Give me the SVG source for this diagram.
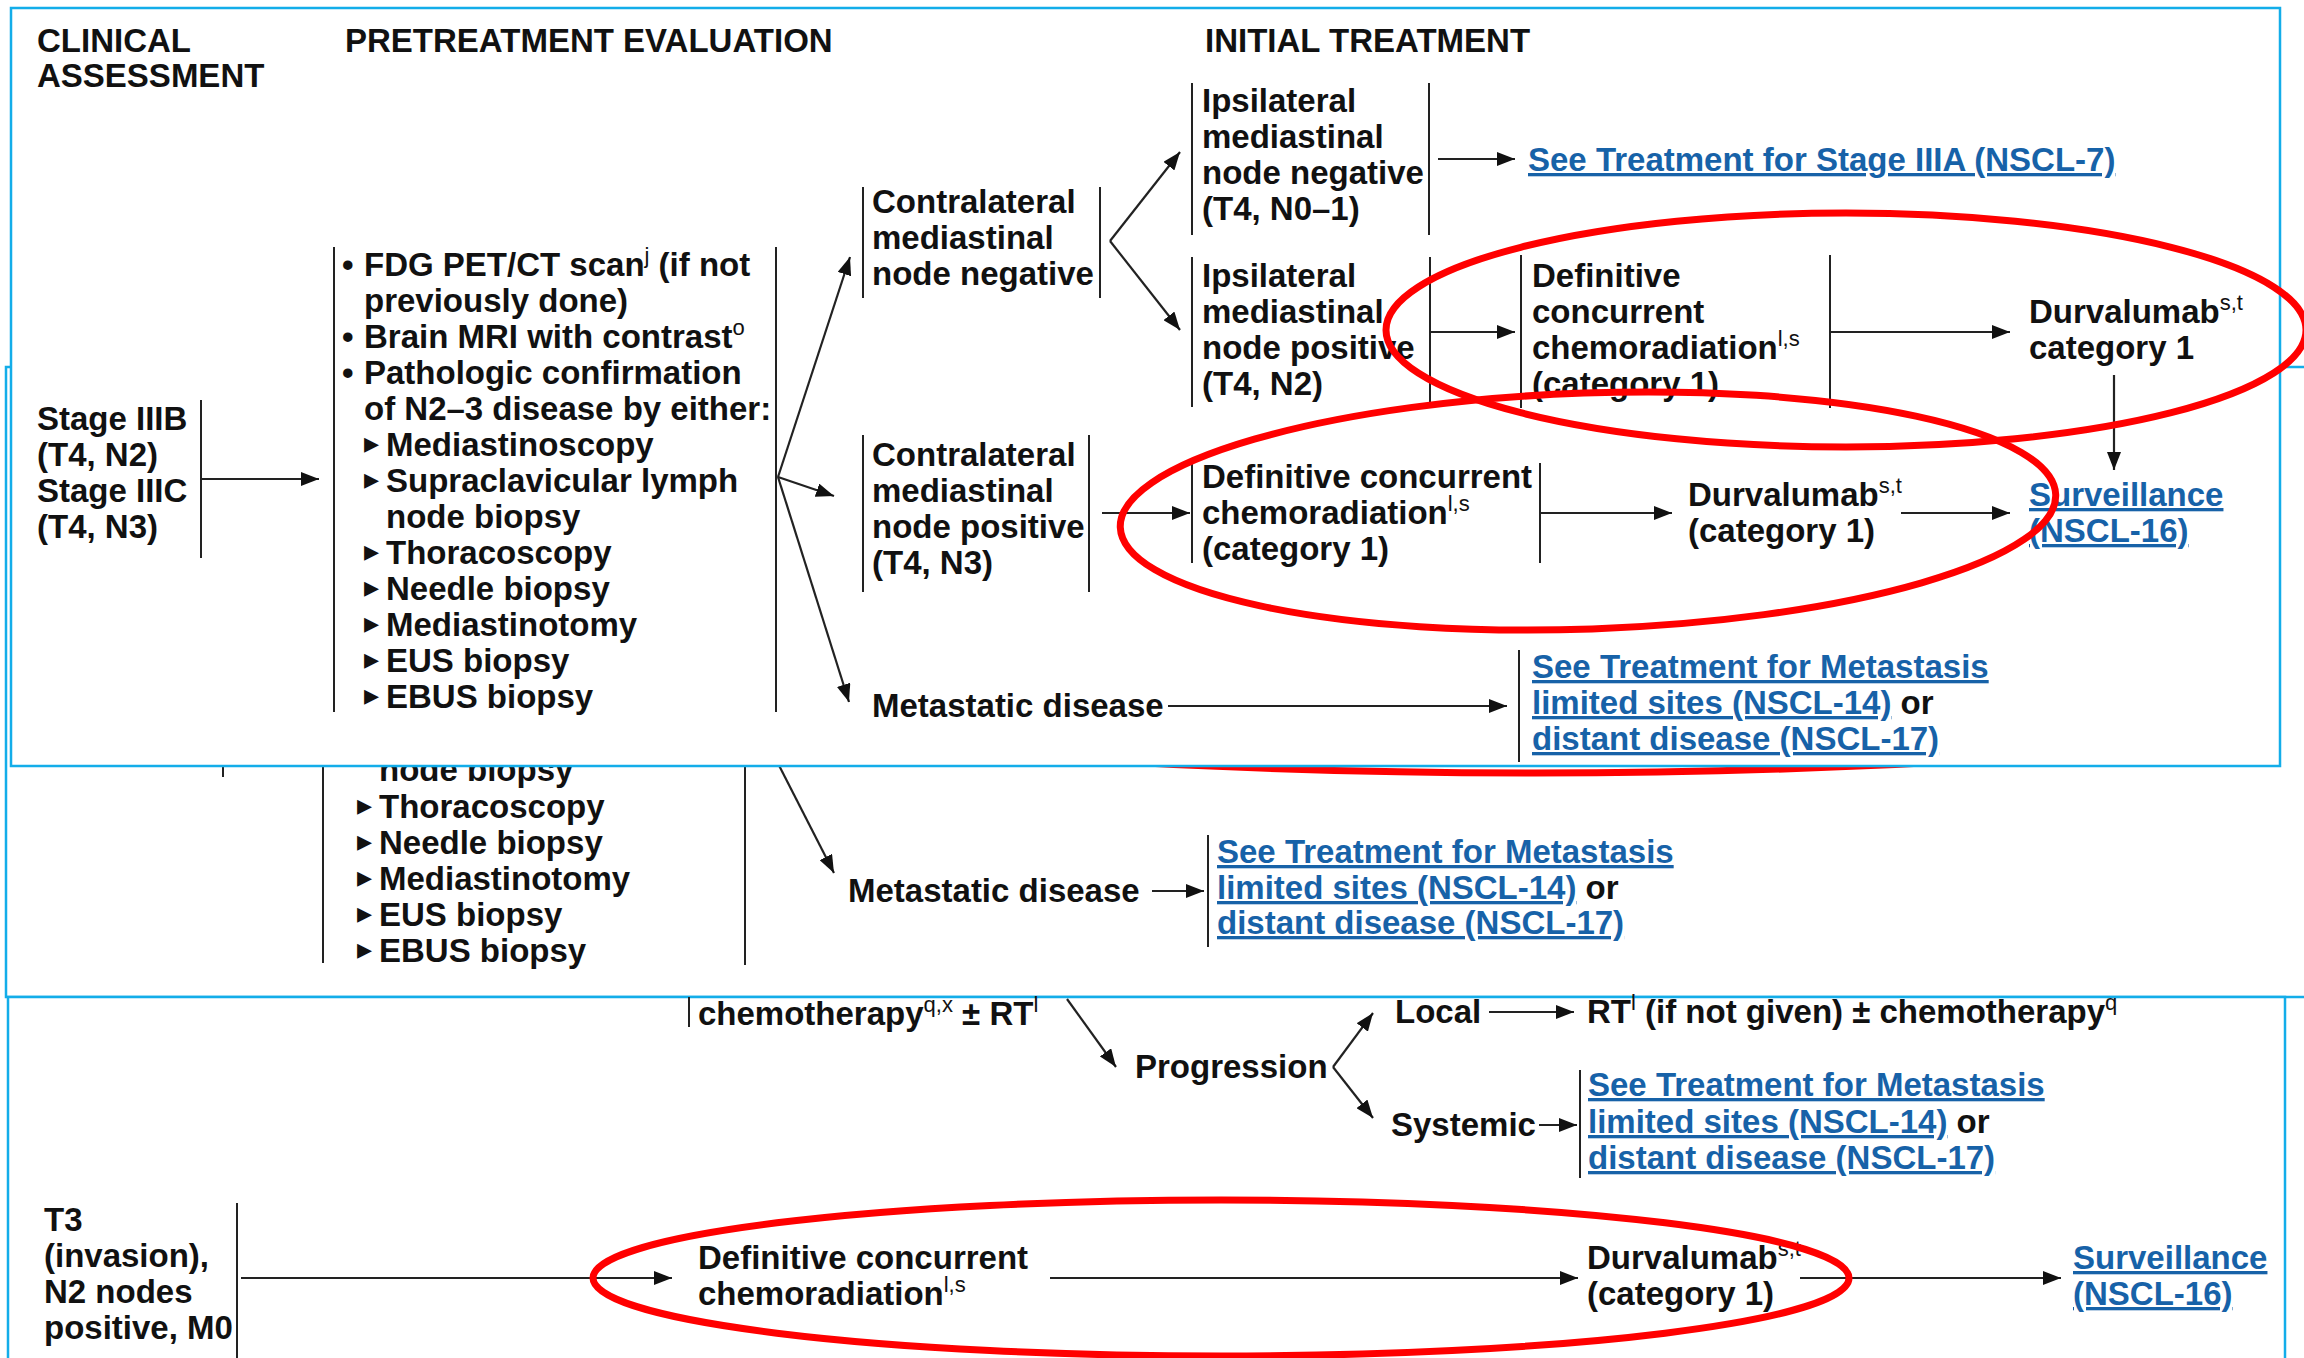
<svg xmlns="http://www.w3.org/2000/svg" width="2304" height="1358" viewBox="0 0 2304 1358">
<defs>
<style>
.t{font-family:"Liberation Sans",Arial,sans-serif;font-size:33px;font-weight:bold;fill:#111}
.lk{fill:#1762a8;text-decoration:underline}
.sup{font-size:22px;font-weight:normal}
.tri{font-family:"DejaVu Sans",sans-serif;font-size:30px;fill:#111}
.frame{fill:#fff;stroke:#13ade9;stroke-width:2.5}
.div{stroke:#222;stroke-width:2;fill:none}
.con{stroke:#222;stroke-width:2.2;fill:none;marker-end:url(#ah)}
.ring{fill:none;stroke:#f00;stroke-width:7}
</style>
<marker id="ah" markerUnits="userSpaceOnUse" markerWidth="20" markerHeight="14" refX="18" refY="7" orient="auto"><path d="M0,0 L18,7 L0,14 z" fill="#111"/></marker>
</defs>
<rect x="0" y="0" width="2304" height="1358" fill="#fff"/>

<!-- Panel 2 (middle, partly hidden) -->
<g id="panel2">
<rect class="frame" x="6" y="367" width="2400" height="630"/>
<g id="p2-connectors">
<line class="div" x1="223" y1="740" x2="223" y2="777"/>
<line class="con" x1="765" y1="738" x2="834" y2="873"/>
<line class="con" x1="1152" y1="891" x2="1204" y2="891"/>
</g>
<g id="p2-pretreatment">
<line class="div" x1="323" y1="740" x2="323" y2="963"/>
<line class="div" x1="745" y1="740" x2="745" y2="965"/>
<text class="t" x="379" y="781">node biopsy</text>
<text class="t" y="818"><tspan class="tri" x="357" dy="-3">▸</tspan><tspan x="379" dy="3">Thoracoscopy</tspan></text>
<text class="t" y="854"><tspan class="tri" x="357" dy="-3">▸</tspan><tspan x="379" dy="3">Needle biopsy</tspan></text>
<text class="t" y="890"><tspan class="tri" x="357" dy="-3">▸</tspan><tspan x="379" dy="3">Mediastinotomy</tspan></text>
<text class="t" y="926"><tspan class="tri" x="357" dy="-3">▸</tspan><tspan x="379" dy="3">EUS biopsy</tspan></text>
<text class="t" y="962"><tspan class="tri" x="357" dy="-3">▸</tspan><tspan x="379" dy="3">EBUS biopsy</tspan></text>
</g>
<g id="p2-metastatic"><text class="t" x="848" y="902">Metastatic disease</text></g>
<g id="p2-metastasis-link">
<line class="div" x1="1208" y1="835" x2="1208" y2="947"/>
<text class="t lk" x="1217" y="863">See Treatment for Metastasis </text>
<text class="t" x="1217" y="899"><tspan class="lk">limited sites (NSCL-14)</tspan> or</text>
<text class="t lk" x="1217" y="934">distant disease (NSCL-17)</text>
</g>
<path class="ring" d="M1040,757 Q1535,789 2030,757"/>
</g>

<!-- Panel 3 (bottom) -->
<g id="panel3">
<rect class="frame" x="8" y="997" width="2277" height="500"/>
<g id="p3-connectors">
<line class="con" x1="1067" y1="999" x2="1116" y2="1067"/>
<line class="con" x1="1333" y1="1067" x2="1373" y2="1013"/>
<line class="con" x1="1333" y1="1067" x2="1373" y2="1118"/>
<line class="con" x1="1489" y1="1012" x2="1574" y2="1012"/>
<line class="con" x1="1539" y1="1125" x2="1577" y2="1125"/>
<line class="con" x1="241" y1="1278" x2="672" y2="1278"/>
<line class="con" x1="1050" y1="1278" x2="1578" y2="1278"/>
<line class="con" x1="1800" y1="1278" x2="2061" y2="1278"/>
</g>
<g id="p3-chemo">
<line class="div" x1="689" y1="997" x2="689" y2="1027"/>
<text class="t" x="698" y="1025">chemotherapy<tspan class="sup" dy="-13">q,x</tspan><tspan dy="13"> ± RT</tspan><tspan class="sup" dy="-13">l</tspan></text>
</g>
<g id="p3-progression"><text class="t" x="1135" y="1078">Progression</text></g>
<g id="p3-local"><text class="t" x="1395" y="1023">Local</text></g>
<g id="p3-rt"><text class="t" x="1587" y="1023">RT<tspan class="sup" dy="-13">l</tspan><tspan dy="13"> (if not given) ± chemotherapy</tspan><tspan class="sup" dy="-13">q</tspan></text></g>
<g id="p3-systemic"><text class="t" x="1391" y="1136">Systemic</text></g>
<g id="p3-metastasis-link">
<line class="div" x1="1580" y1="1070" x2="1580" y2="1178"/>
<text class="t lk" x="1588" y="1096">See Treatment for Metastasis </text>
<text class="t" x="1588" y="1133"><tspan class="lk">limited sites (NSCL-14)</tspan> or</text>
<text class="t lk" x="1588" y="1169">distant disease (NSCL-17)</text>
</g>
<g id="p3-t3">
<line class="div" x1="237" y1="1203" x2="237" y2="1358"/>
<text class="t" x="44" y="1231">T3</text>
<text class="t" x="44" y="1267">(invasion),</text>
<text class="t" x="44" y="1303">N2 nodes</text>
<text class="t" x="44" y="1339">positive, M0</text>
</g>
<g id="p3-definitive">
<text class="t" x="698" y="1269">Definitive concurrent</text>
<text class="t" x="698" y="1305">chemoradiation<tspan class="sup" dy="-13">l,s</tspan></text>
</g>
<g id="p3-durvalumab">
<text class="t" x="1587" y="1269">Durvalumab<tspan class="sup" dy="-13">s,t</tspan></text>
<text class="t" x="1587" y="1305">(category 1)</text>
</g>
<g id="p3-surveillance">
<text class="t lk" x="2073" y="1269">Surveillance</text>
<text class="t lk" x="2073" y="1305">(NSCL-16)</text>
</g>
<ellipse class="ring" cx="1221" cy="1278" rx="628" ry="78"/>
</g>

<!-- Panel 1 (top) -->
<g id="panel1">
<rect class="frame" x="11" y="8" width="2269" height="758"/>
<g id="headers">
<text class="t" x="37" y="52">CLINICAL</text>
<text class="t" x="37" y="87">ASSESSMENT</text>
<text class="t" x="345" y="52">PRETREATMENT EVALUATION</text>
<text class="t" x="1205" y="52">INITIAL TREATMENT</text>
</g>
<g id="connectors">
<line class="con" x1="201" y1="479" x2="319" y2="479"/>
<line class="con" x1="778" y1="477" x2="850" y2="257"/>
<line class="con" x1="778" y1="477" x2="834" y2="496"/>
<line class="con" x1="778" y1="477" x2="849" y2="702"/>
<line class="con" x1="1110" y1="241" x2="1180" y2="152"/>
<line class="con" x1="1110" y1="241" x2="1180" y2="330"/>
<line class="con" x1="1438" y1="159" x2="1515" y2="159"/>
<line class="con" x1="1430" y1="332" x2="1515" y2="332"/>
<line class="con" x1="1830" y1="332" x2="2010" y2="332"/>
<line class="con" x1="2114" y1="375" x2="2114" y2="470"/>
<line class="con" x1="1102" y1="513" x2="1190" y2="513"/>
<line class="con" x1="1540" y1="513" x2="1672" y2="513"/>
<line class="con" x1="1901" y1="513" x2="2010" y2="513"/>
<line class="con" x1="1168" y1="706" x2="1507" y2="706"/>
</g>
<g id="stage">
<line class="div" x1="201" y1="400" x2="201" y2="558"/>
<text class="t" x="37" y="430">Stage IIIB</text>
<text class="t" x="37" y="466">(T4, N2)</text>
<text class="t" x="37" y="502">Stage IIIC</text>
<text class="t" x="37" y="538">(T4, N3)</text>
</g>
<g id="pretreatment">
<line class="div" x1="334" y1="247" x2="334" y2="712"/>
<line class="div" x1="776" y1="247" x2="776" y2="712"/>
<text class="t" y="276"><tspan x="342">•</tspan><tspan x="364">FDG PET/CT scan</tspan><tspan class="sup" dy="-13">j</tspan><tspan dy="13"> (if not</tspan></text>
<text class="t" x="364" y="312">previously done)</text>
<text class="t" y="348"><tspan x="342">•</tspan><tspan x="364">Brain MRI with contrast</tspan><tspan class="sup" dy="-13">o</tspan></text>
<text class="t" y="384"><tspan x="342">•</tspan><tspan x="364">Pathologic confirmation</tspan></text>
<text class="t" x="364" y="420">of N2–3 disease by either:</text>
<text class="t" y="456"><tspan class="tri" x="364" dy="-3">▸</tspan><tspan x="386" dy="3">Mediastinoscopy</tspan></text>
<text class="t" y="492"><tspan class="tri" x="364" dy="-3">▸</tspan><tspan x="386" dy="3">Supraclavicular lymph</tspan></text>
<text class="t" x="386" y="528">node biopsy</text>
<text class="t" y="564"><tspan class="tri" x="364" dy="-3">▸</tspan><tspan x="386" dy="3">Thoracoscopy</tspan></text>
<text class="t" y="600"><tspan class="tri" x="364" dy="-3">▸</tspan><tspan x="386" dy="3">Needle biopsy</tspan></text>
<text class="t" y="636"><tspan class="tri" x="364" dy="-3">▸</tspan><tspan x="386" dy="3">Mediastinotomy</tspan></text>
<text class="t" y="672"><tspan class="tri" x="364" dy="-3">▸</tspan><tspan x="386" dy="3">EUS biopsy</tspan></text>
<text class="t" y="708"><tspan class="tri" x="364" dy="-3">▸</tspan><tspan x="386" dy="3">EBUS biopsy</tspan></text>
</g>
<g id="contra-negative">
<line class="div" x1="863" y1="187" x2="863" y2="298"/>
<line class="div" x1="1100" y1="187" x2="1100" y2="298"/>
<text class="t" x="872" y="213">Contralateral</text>
<text class="t" x="872" y="249">mediastinal</text>
<text class="t" x="872" y="285">node negative</text>
</g>
<g id="ipsi-negative">
<line class="div" x1="1192" y1="83" x2="1192" y2="235"/>
<line class="div" x1="1429" y1="83" x2="1429" y2="235"/>
<text class="t" x="1202" y="112">Ipsilateral</text>
<text class="t" x="1202" y="148">mediastinal</text>
<text class="t" x="1202" y="184">node negative</text>
<text class="t" x="1202" y="220">(T4, N0–1)</text>
</g>
<g id="stage-iiia-link"><text class="t lk" x="1528" y="171">See Treatment for Stage IIIA (NSCL-7)</text></g>
<g id="ipsi-positive">
<line class="div" x1="1192" y1="257" x2="1192" y2="407"/>
<line class="div" x1="1430" y1="257" x2="1430" y2="407"/>
<text class="t" x="1202" y="287">Ipsilateral</text>
<text class="t" x="1202" y="323">mediastinal</text>
<text class="t" x="1202" y="359">node positive</text>
<text class="t" x="1202" y="395">(T4, N2)</text>
</g>
<g id="definitive-1">
<line class="div" x1="1521" y1="255" x2="1521" y2="408"/>
<line class="div" x1="1830" y1="255" x2="1830" y2="408"/>
<text class="t" x="1532" y="287">Definitive</text>
<text class="t" x="1532" y="323">concurrent</text>
<text class="t" x="1532" y="359">chemoradiation<tspan class="sup" dy="-13">l,s</tspan></text>
<text class="t" x="1532" y="395">(category 1)</text>
</g>
<g id="durvalumab-1">
<text class="t" x="2029" y="323">Durvalumab<tspan class="sup" dy="-13">s,t</tspan></text>
<text class="t" x="2029" y="359">category 1</text>
</g>
<g id="contra-positive">
<line class="div" x1="863" y1="435" x2="863" y2="592"/>
<line class="div" x1="1089" y1="435" x2="1089" y2="592"/>
<text class="t" x="872" y="466">Contralateral</text>
<text class="t" x="872" y="502">mediastinal</text>
<text class="t" x="872" y="538">node positive</text>
<text class="t" x="872" y="574">(T4, N3)</text>
</g>
<g id="definitive-2">
<line class="div" x1="1192" y1="463" x2="1192" y2="563"/>
<line class="div" x1="1540" y1="463" x2="1540" y2="563"/>
<text class="t" x="1202" y="488">Definitive concurrent</text>
<text class="t" x="1202" y="524">chemoradiation<tspan class="sup" dy="-13">l,s</tspan></text>
<text class="t" x="1202" y="560">(category 1)</text>
</g>
<g id="durvalumab-2">
<text class="t" x="1688" y="506">Durvalumab<tspan class="sup" dy="-13">s,t</tspan></text>
<text class="t" x="1688" y="542">(category 1)</text>
</g>
<g id="surveillance-1">
<text class="t lk" x="2029" y="506">Surveillance</text>
<text class="t lk" x="2029" y="542">(NSCL-16)</text>
</g>
<g id="metastatic"><text class="t" x="872" y="717">Metastatic disease</text></g>
<g id="metastasis-link">
<line class="div" x1="1519" y1="650" x2="1519" y2="762"/>
<text class="t lk" x="1532" y="678">See Treatment for Metastasis </text>
<text class="t" x="1532" y="714"><tspan class="lk">limited sites (NSCL-14)</tspan> or</text>
<text class="t lk" x="1532" y="750">distant disease (NSCL-17)</text>
</g>
<g id="highlights">
<ellipse class="ring" cx="1588" cy="511" rx="468" ry="118" transform="rotate(-2 1588 511)"/>
<ellipse class="ring" cx="1846" cy="330" rx="460" ry="117"/>
</g>
</g>
</svg>
